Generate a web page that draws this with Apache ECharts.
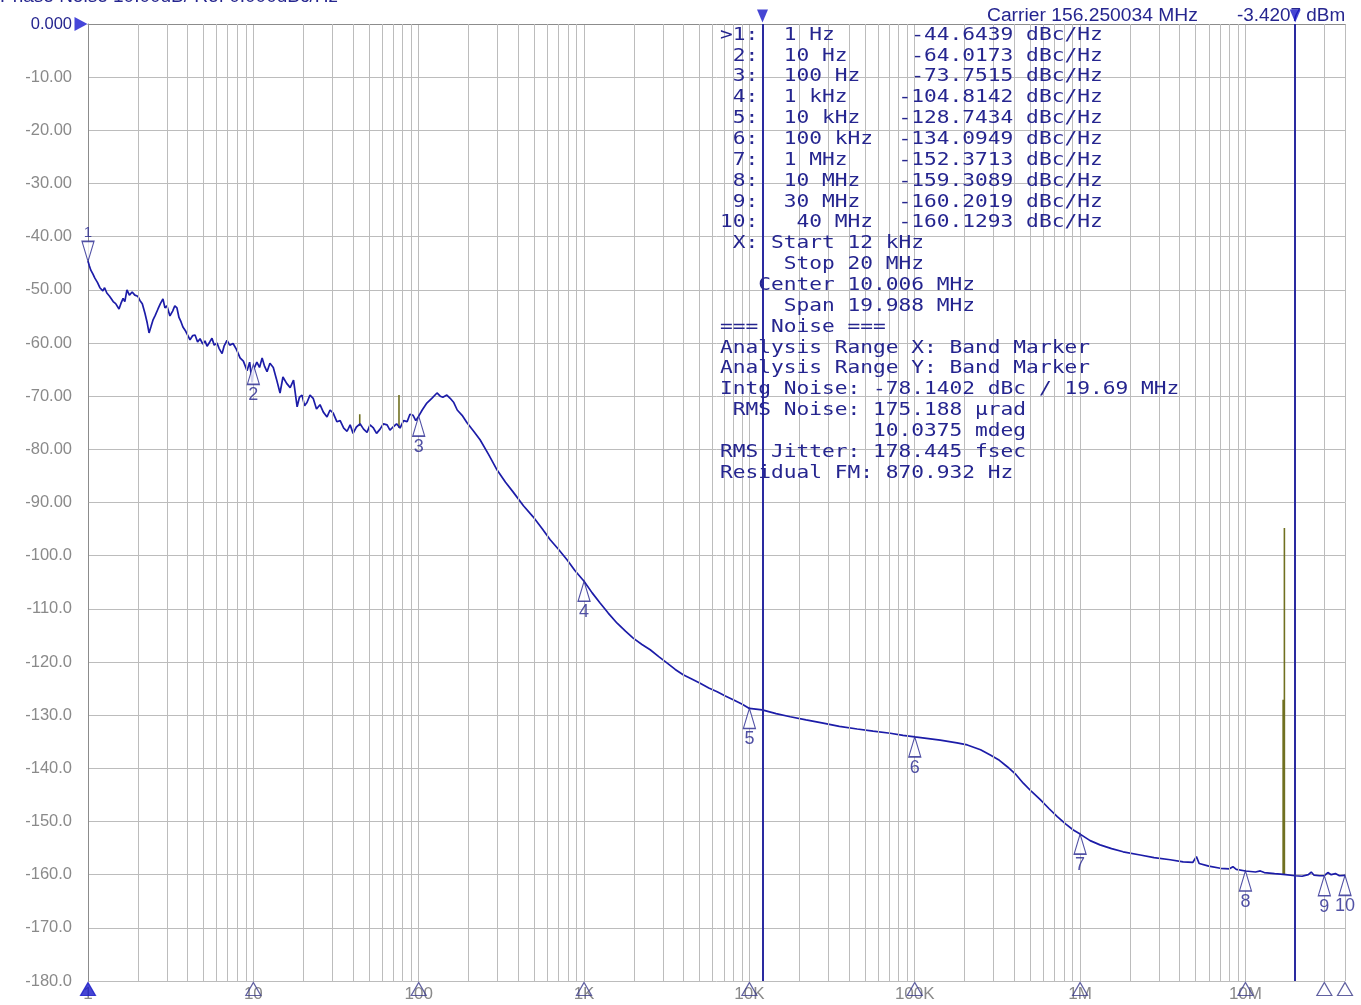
<!DOCTYPE html>
<html><head><meta charset="utf-8">
<script src="https://cdn.jsdelivr.net/npm/echarts@6/dist/echarts.min.js"></script>
<style>html,body{margin:0;padding:0;background:#fff}#c{width:1361px;height:1005px}</style>
</head><body><div id="c"></div>
<script>
// ---- Trace data (offset frequency in Hz, phase noise in dBc/Hz) ----
const freqHz = [
1.00,1.02,1.04,1.07,1.10,1.14,1.18,1.23,1.26,1.30,1.35,1.42,1.47,1.54,1.58,1.63,1.67,1.72,1.78,1.85,
1.92,2.00,2.06,2.13,2.21,2.28,2.34,2.40,2.47,2.55,2.65,2.74,2.84,2.92,3.00,3.13,3.25,3.35,3.45,3.55,
3.65,3.75,3.90,4.02,4.14,4.30,4.44,4.60,4.76,4.95,5.10,5.25,5.45,5.62,5.80,6.03,6.20,6.47,6.65,6.93,
7.20,7.54,7.90,8.31,8.70,9.16,9.50,9.82,10.1,10.5,10.9,11.3,11.7,12.1,12.6,13.2,13.8,14.5,15.1,15.9,
16.7,17.5,18.4,19.0,19.7,20.4,21.1,22.0,23.0,24.1,25.3,26.5,27.9,29.1,30.4,32.0,33.5,35.2,36.9,38.5,
40.1,42.0,44.2,46.4,48.7,50.8,53.0,55.6,58.4,61.2,64.4,67.0,70.0,73.5,77.1,81.0,85.1,88.5,92.5,96.0,
100,105,112,120,129,135,140,148,155,163,171,183,196,215,235,265,298,335,372,430,
492,560,624,700,791,880,1000,1120,1250,1400,1585,1780,1982,2240,2512,2830,3184,3560,3975,4480,
5037,5680,6383,7150,7980,9000,10000,11950,14500,17650,22000,27930,35000,44870,56000,71090,85000,100000,142600,180000,
207800,250000,286300,325000,362800,410000,453300,510000,574400,650000,727800,820000,909800,1000000,1150000,1320000,1550000,1820000,2310000,2800000,
3510000,4200000,4800000,5050000,5250000,6000000,7050000,8000000,8400000,8800000,10000000,11500000,12300000,13000000,15000000,16300000,17500000,20000000,22000000,24000000,
25000000,26000000,28000000,30000000,31500000,33000000,35000000,37000000,40000000
];
const pnDbc = [
-44.6,-45.5,-46.3,-47.0,-47.8,-48.6,-49.6,-50.2,-49.6,-50.6,-51.2,-52.2,-52.6,-53.6,-52.6,-51.6,-52.2,-50.0,-51.0,-50.4,
-51.0,-51.2,-52.0,-52.6,-54.4,-56.2,-58.1,-57.0,-55.7,-54.8,-53.6,-52.6,-51.7,-53.4,-53.0,-54.9,-54.0,-53.0,-53.4,-55.2,
-56.0,-57.0,-57.8,-58.6,-59.4,-58.6,-58.5,-59.8,-59.2,-60.2,-59.6,-60.6,-59.8,-59.1,-60.4,-60.0,-61.0,-62.0,-60.6,-59.5,
-60.4,-60.1,-61.2,-62.8,-63.4,-65.2,-63.6,-67.4,-64.8,-63.6,-64.6,-62.8,-64.4,-65.4,-63.8,-64.6,-66.8,-69.4,-66.4,-67.6,
-68.4,-67.0,-72.0,-70.2,-69.8,-71.8,-71.2,-69.8,-70.4,-72.4,-71.6,-73.0,-73.9,-72.6,-73.2,-74.8,-74.6,-76.0,-76.6,-75.4,
-77.0,-75.8,-75.2,-76.2,-76.8,-75.4,-75.9,-77.0,-76.2,-75.2,-75.4,-76.4,-75.8,-75.2,-76.0,-74.6,-74.8,-73.4,-73.6,-74.6,
-73.75,-72.6,-71.3,-70.4,-69.4,-70.0,-70.2,-69.8,-70.4,-71.2,-72.6,-73.6,-75.0,-76.6,-78.2,-81.0,-83.9,-86.2,-88.0,-90.6,
-92.7,-95.0,-97.0,-98.8,-100.8,-102.8,-104.8,-107.0,-108.9,-110.8,-112.7,-114.2,-115.5,-116.7,-117.7,-119.0,-120.2,-121.4,-122.4,-123.2,
-124.0,-124.9,-125.6,-126.4,-127.1,-127.9,-128.74,-129.0,-129.7,-130.3,-130.9,-131.5,-132.1,-132.6,-133.0,-133.4,-133.8,-134.09,-134.7,-135.2,
-135.6,-136.5,-137.5,-138.5,-139.7,-141.2,-142.8,-144.4,-145.9,-147.6,-149.1,-150.5,-151.6,-152.37,-153.6,-154.4,-155.1,-155.7,-156.3,-156.8,
-157.2,-157.6,-157.7,-156.6,-157.9,-158.4,-158.8,-158.9,-158.5,-159.0,-159.31,-159.5,-159.3,-159.6,-159.8,-159.9,-160.0,-160.2,-160.3,-160.0,
-159.5,-160.1,-160.2,-160.2,-159.6,-160.0,-159.8,-160.2,-160.13
];

// ---- Spurs (olive) ----
const spurFreqHz  = [44, 76, 16900000, 17200000];
const spurBaseDbc = [-75.6, -76.0, -160.0, -160.0];
const spurPeakDbc = [-73.4, -69.8, -127.1, -94.8];

// ---- Markers ----
const markerNames  = ['1','2','3','4','5','6','7','8','9','10'];
const markerFreqHz = [1, 10, 100, 1e3, 1e4, 1e5, 1e6, 1e7, 3e7, 4e7];
const markerDbc    = [-44.6439,-64.0173,-73.7515,-104.8142,-128.7434,-134.0949,-152.3713,-159.3089,-160.2019,-160.1293];

// ---- Band marker (integration range) ----
const bandStartHz = 12000;
const bandStopHz  = 20000000;

// ---- Axis ----
const xMinHz = 1, xMaxHz = 40000000;
const xDecadeLabels = {1:'1',10:'10',100:'100',1000:'1K',10000:'10K',100000:'100K',1000000:'1M',10000000:'10M'};
const yMin = -180, yMax = 0, yStep = 10;

// ---- Readout text ----
const tableLines = [
'>1:  1 Hz      -44.6439 dBc/Hz',
' 2:  10 Hz     -64.0173 dBc/Hz',
' 3:  100 Hz    -73.7515 dBc/Hz',
' 4:  1 kHz    -104.8142 dBc/Hz',
' 5:  10 kHz   -128.7434 dBc/Hz',
' 6:  100 kHz  -134.0949 dBc/Hz',
' 7:  1 MHz    -152.3713 dBc/Hz',
' 8:  10 MHz   -159.3089 dBc/Hz',
' 9:  30 MHz   -160.2019 dBc/Hz',
'10:   40 MHz  -160.1293 dBc/Hz',
' X: Start 12 kHz',
'     Stop 20 MHz',
'   Center 10.006 MHz',
'     Span 19.988 MHz',
'=== Noise ===',
'Analysis Range X: Band Marker',
'Analysis Range Y: Band Marker',
'Intg Noise: -78.1402 dBc / 19.69 MHz',
' RMS Noise: 175.188 \u00b5rad',
'            10.0375 mdeg',
'RMS Jitter: 178.445 fsec',
'Residual FM: 870.932 Hz'
];
const titleText = 'Phase Noise 10.00dB/ Ref 0.000dBc/Hz';
const carrierText = 'Carrier 156.250034 MHz';
const carrierPowerText = '-3.4207 dBm';

// ---------------------------------------------------------------
const NAVY = '#25258f';
const TRACE = '#1c1ca8';
const GRID = '#bcbcbc';

// minor log grid values (2..9 x 10^n) inside range
const minorGrid = [];
for (let d = 1; d <= 1e7; d *= 10) {
  for (let k = 2; k <= 9; k++) { const v = k * d; if (v < xMaxHz) minorGrid.push(v); }
}

const traceData = freqHz.map((f, i) => [f, pnDbc[i]]);
const spurData = [];
spurFreqHz.forEach((f, i) => { spurData.push([f, spurBaseDbc[i]], [f, spurPeakDbc[i]], [f, null]); });

const gridMark = minorGrid.map(v => ({ xAxis: v }));
const bandMark = [bandStartHz, bandStopHz].map(v => ({ xAxis: v, lineStyle: { color: '#2a2aa0', width: 2, type: 'solid' } }));

const chart = echarts.init(document.getElementById('c'), null, { renderer: 'canvas' });

const graphics = [];
graphics.push({ type: 'text', x: 0, y: 6, style: { text: titleText, font: '19px "Liberation Sans"', fill: NAVY, textVerticalAlign: 'bottom' } });
graphics.push({ type: 'text', x: 987, y: 16, style: { text: carrierText, font: '18px "Liberation Sans"', fill: NAVY, textVerticalAlign: 'middle' }, scaleX: 1.07 });
graphics.push({ type: 'text', x: 1237, y: 16, style: { text: carrierPowerText, font: '18px "Liberation Sans"', fill: NAVY, textVerticalAlign: 'middle' }, scaleX: 1.05 });
tableLines.forEach((t, i) => {
  graphics.push({ type: 'text', x: 720, y: 35 + i * 20.86, scaleX: 1.177, z: 10,
    style: { text: t, font: '18px "DejaVu Sans Mono"', fill: NAVY, textVerticalAlign: 'middle' } });
});

chart.setOption({
  animation: false,
  backgroundColor: '#ffffff',
  grid: { left: 88, top: 24, right: 16, bottom: 24, containLabel: false },
  xAxis: {
    type: 'log', logBase: 10, min: xMinHz, max: xMaxHz, splitNumber: 8,
    axisLine: { show: true, lineStyle: { color: '#8c8c8c', width: 1 } },
    axisTick: { show: false },
    axisLabel: { show: true, margin: 5, color: '#8a8a8a', fontSize: 17, fontFamily: 'Liberation Sans',
      formatter: v => xDecadeLabels[Math.round(v)] || '' },
    splitLine: { show: true, lineStyle: { color: GRID, width: 1 } }
  },
  yAxis: {
    type: 'value', min: yMin, max: yMax, interval: yStep,
    axisLine: { show: true, lineStyle: { color: '#8c8c8c', width: 1 } },
    axisTick: { show: false },
    axisLabel: { margin: 16, fontSize: 16.5, fontFamily: 'Liberation Sans',
      color: (v) => (Number(v) === 0 ? NAVY : '#8a8a8a'),
      formatter: v => v === 0 ? '0.000' : (Math.abs(v) < 100 ? v.toFixed(2) : v.toFixed(1)) },
    splitLine: { show: true, lineStyle: { color: GRID, width: 1 } }
  },
  graphic: graphics,
  series: [
    { type: 'line', data: [], z: 1, silent: true,
      markLine: { silent: true, symbol: ['none', 'none'], label: { show: false }, animation: false,
        lineStyle: { color: GRID, width: 1, type: 'solid' }, data: gridMark.concat(bandMark) } },
    { type: 'line', data: traceData, z: 3, showSymbol: false, silent: true,
      lineStyle: { color: TRACE, width: 1.7 } },
    { type: 'line', data: spurData, z: 2, showSymbol: false, connectNulls: false, silent: true,
      lineStyle: { color: '#707020', width: 1.6 } },
    { type: 'scatter', z: 5, clip: false, silent: true,
      data: markerFreqHz.slice(1).map((f, i) => ({ value: [f, markerDbc[i + 1]], name: markerNames[i + 1] })),
      symbol: 'path://M6,0L12,20L0,20Z', symbolSize: [12, 20], symbolOffset: [0, 10],
      itemStyle: { color: '#ffffff', borderColor: NAVY, borderWidth: 1.3 },
      label: { show: true, position: 'bottom', distance: 1, formatter: p => p.name, color: NAVY, fontSize: 18, fontFamily: 'Liberation Sans' } },
    { type: 'scatter', z: 5, clip: false, silent: true,
      data: [{ value: [markerFreqHz[0], markerDbc[0]], name: markerNames[0] }],
      symbol: 'path://M0,0L12,0L6,20Z', symbolSize: [12, 20], symbolOffset: [0, -10],
      itemStyle: { color: '#ffffff', borderColor: NAVY, borderWidth: 1.3 },
      label: { show: true, position: 'top', distance: 0, formatter: p => p.name, color: NAVY, fontSize: 15, fontFamily: 'Liberation Sans' } },
    { type: 'scatter', z: 6, clip: false, silent: true,
      data: markerFreqHz.map((f, i) => ({ value: [f, yMin], itemStyle: i === 0 ? { color: '#1818c8', borderColor: '#1818c8' } : {} })),
      symbol: 'path://M7,0L14,13L0,13Z', symbolSize: [15, 13], symbolOffset: [0, 8],
      itemStyle: { color: 'rgba(255,255,255,0)', borderColor: '#3a3a8a', borderWidth: 1.2 } },
    { type: 'scatter', z: 6, clip: false, silent: true,
      data: [[bandStartHz, yMax], [bandStopHz, yMax]],
      symbol: 'path://M0,0L11,0L5.5,13Z', symbolSize: [11, 13], symbolOffset: [0, -8],
      itemStyle: { color: '#1818c8' } },
    { type: 'scatter', z: 6, clip: false, silent: true,
      data: [[xMinHz, yMax]],
      symbol: 'path://M0,0L13,7L0,14Z', symbolSize: [13, 14], symbolOffset: [-7, 0],
      itemStyle: { color: '#1818d0' } }
  ]
});
</script></body></html>
